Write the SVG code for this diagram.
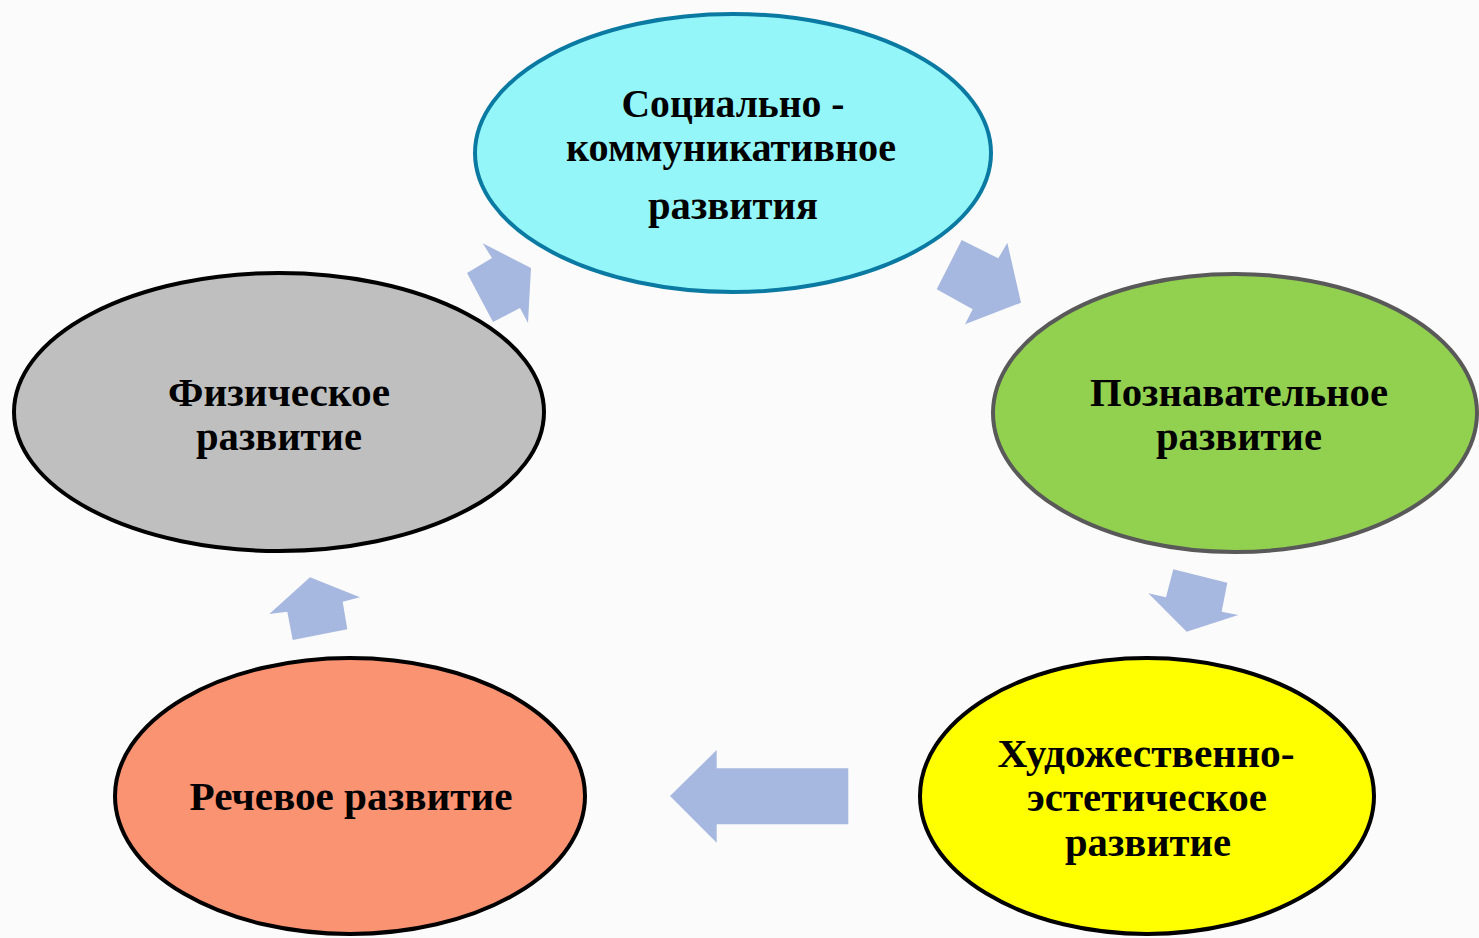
<svg xmlns="http://www.w3.org/2000/svg" width="1479" height="938" viewBox="0 0 1479 938">
<style>
.lbl{font-family:"Liberation Serif","DejaVu Serif",serif;font-weight:bold;font-size:40px;fill:#000;text-anchor:middle}
.arr{fill:#A7B8E0;stroke:none}
.node ellipse{stroke-width:4}
</style>
<rect x="0" y="0" width="1479" height="938" fill="#FBFBFB"/>
<g id="connectors">
<polygon class="arr" points="482.7,243.3 531,268 528,323 520,308 493,322 467,273 492,258"/>
<polygon class="arr" points="961.7,240 998.3,258.3 1007.3,242.7 1021,302.7 965,324.3 972.7,309.3 936.7,289.3"/>
<polygon class="arr" points="1173.3,569.3 1227.3,582.7 1221.7,611.7 1238.3,615 1186.7,631.7 1148.3,593.3 1166,597.3"/>
<polygon class="arr" points="670,796 716.7,750 716.7,768.3 848.3,768.3 848.3,824.3 716.7,824.3 716.7,842.7"/>
<polygon class="arr" points="310,577.3 360,597.3 342.7,601.7 347.3,629.3 292.7,640 287.3,611.7 269.3,614"/>
</g>
<g id="node-social" class="node">
<ellipse cx="733" cy="153" rx="258" ry="139" fill="#94F6F8" stroke="#0B7AA3" stroke-width="4.5"/>
<text class="lbl" x="733" y="117" textLength="223" lengthAdjust="spacingAndGlyphs">Социально -</text>
<text class="lbl" x="731" y="161" textLength="330" lengthAdjust="spacingAndGlyphs">коммуникативное</text>
<text class="lbl" x="733" y="219" textLength="170" lengthAdjust="spacingAndGlyphs">развития</text>
</g>
<g id="node-cognitive" class="node">
<ellipse cx="1235" cy="413" rx="242" ry="139" fill="#92D050" stroke="#595959"/>
<text class="lbl" x="1239" y="406" textLength="298" lengthAdjust="spacingAndGlyphs">Познавательное</text>
<text class="lbl" x="1239" y="450" textLength="166" lengthAdjust="spacingAndGlyphs">развитие</text>
</g>
<g id="node-art" class="node">
<ellipse cx="1147" cy="796" rx="227" ry="138" fill="#FFFF00" stroke="#000"/>
<text class="lbl" x="1146" y="767" textLength="297" lengthAdjust="spacingAndGlyphs">Художественно-</text>
<text class="lbl" x="1147" y="811" textLength="240" lengthAdjust="spacingAndGlyphs">эстетическое</text>
<text class="lbl" x="1148" y="856" textLength="166" lengthAdjust="spacingAndGlyphs">развитие</text>
</g>
<g id="node-speech" class="node">
<ellipse cx="350" cy="796" rx="235" ry="138" fill="#F99371" stroke="#000"/>
<text class="lbl" x="351" y="810" textLength="323" lengthAdjust="spacingAndGlyphs">Речевое развитие</text>
</g>
<g id="node-physical" class="node">
<ellipse cx="279" cy="412" rx="265" ry="139" fill="#BFBFBF" stroke="#000"/>
<text class="lbl" x="279" y="406" textLength="222" lengthAdjust="spacingAndGlyphs">Физическое</text>
<text class="lbl" x="279" y="450" textLength="166" lengthAdjust="spacingAndGlyphs">развитие</text>
</g>
</svg>
